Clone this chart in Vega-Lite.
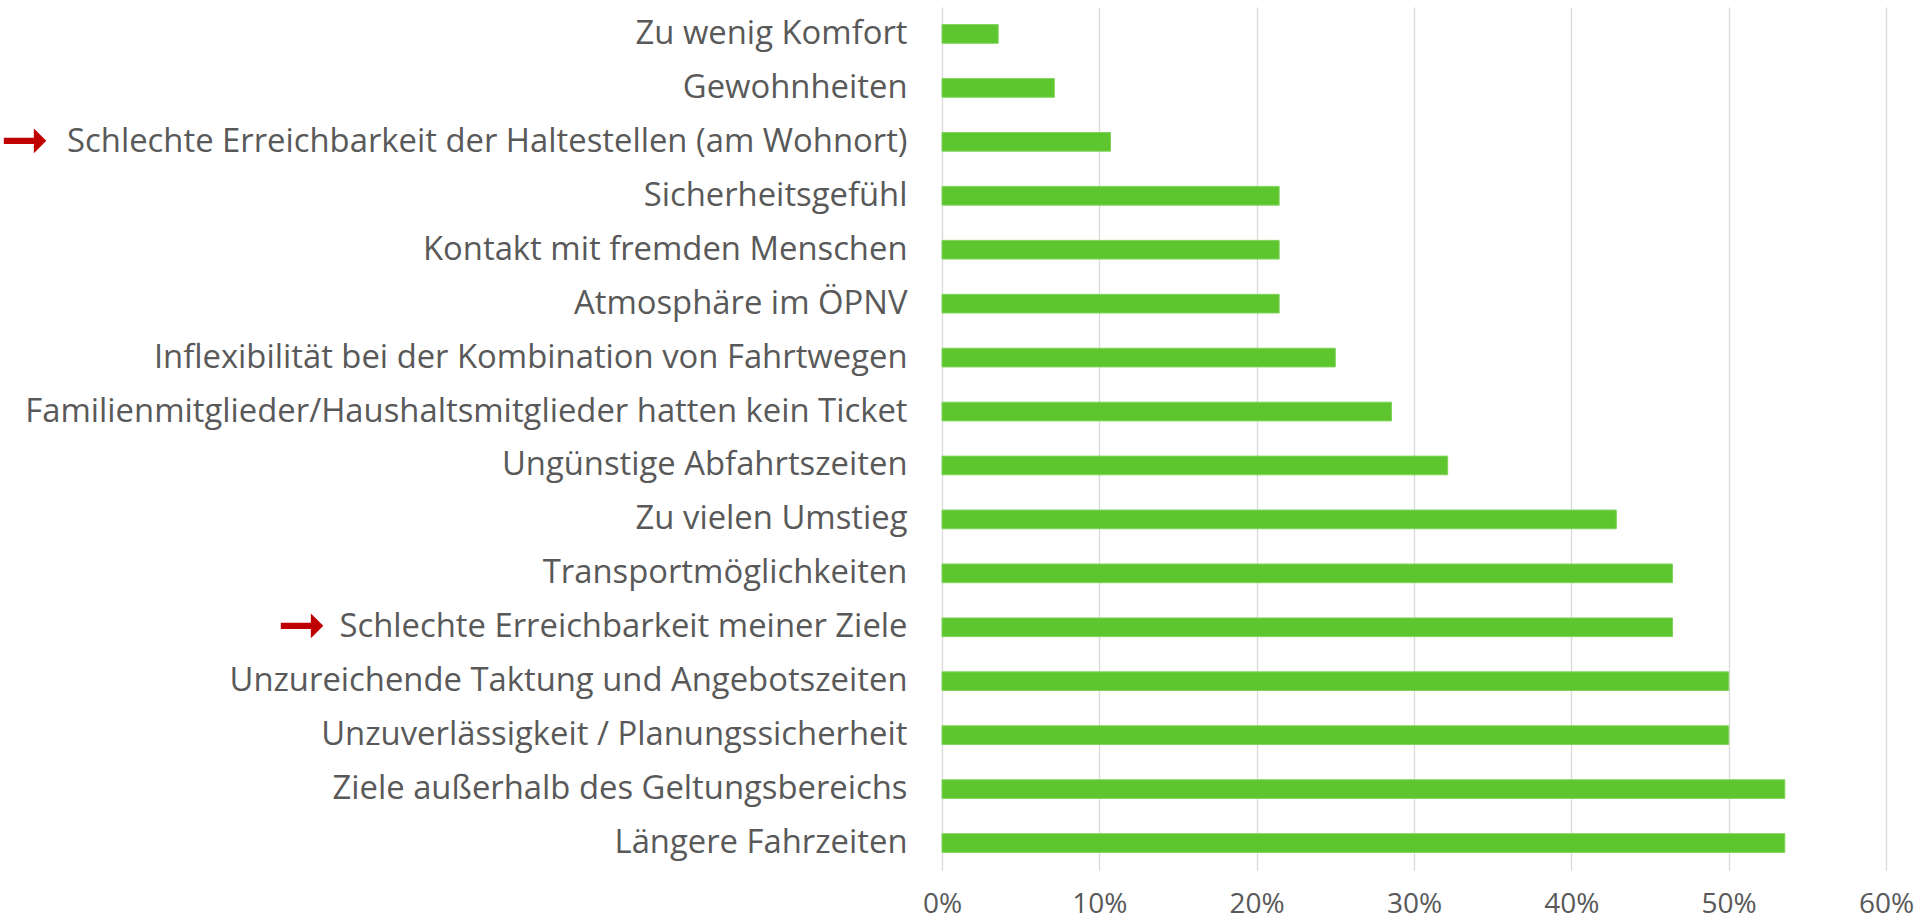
{
  "$schema": "https://vega.github.io/schema/vega-lite/v6.json",
  "width": 944,
  "height": 863,
  "autosize": {"type": "none"},
  "padding": {"left": 942, "top": 7, "right": 43, "bottom": 54},
  "background": "white",
  "config": {"view": {"stroke": null}, "font": "Open Sans"},
  "data": {
    "values": [
      {"reason": "Zu wenig Komfort", "share": 0.0357},
      {"reason": "Gewohnheiten", "share": 0.0714},
      {"reason": "Schlechte Erreichbarkeit der Haltestellen (am Wohnort)", "share": 0.1071},
      {"reason": "Sicherheitsgefühl", "share": 0.2143},
      {"reason": "Kontakt mit fremden Menschen", "share": 0.2143},
      {"reason": "Atmosphäre im ÖPNV", "share": 0.2143},
      {"reason": "Inflexibilität bei der Kombination von Fahrtwegen", "share": 0.25},
      {"reason": "Familienmitglieder/Haushaltsmitglieder hatten kein Ticket", "share": 0.2857},
      {"reason": "Ungünstige Abfahrtszeiten\u00a0", "share": 0.3214},
      {"reason": "Zu vielen Umstieg", "share": 0.4286},
      {"reason": "Transportmöglichkeiten", "share": 0.4643},
      {"reason": "Schlechte Erreichbarkeit meiner Ziele", "share": 0.4643},
      {"reason": "Unzureichende Taktung und Angebotszeiten", "share": 0.5},
      {"reason": "Unzuverlässigkeit / Planungssicherheit", "share": 0.5},
      {"reason": "Ziele außerhalb des Geltungsbereichs", "share": 0.5357},
      {"reason": "Längere Fahrzeiten", "share": 0.5357}
    ]
  },
  "encoding": {
    "y": {
      "field": "reason",
      "type": "nominal",
      "sort": null,
      "scale": {"paddingInner": 0.653, "paddingOuter": 0.3265},
      "axis": {
        "title": null,
        "domain": false,
        "ticks": false,
        "grid": false,
        "labelFont": "Open Sans",
        "labelFontSize": 32.8,
        "labelColor": "#595959",
        "labelPadding": 35,
        "labelLimit": 2000
      }
    }
  },
  "layer": [
    {
      "mark": {"type": "bar", "color": "#5DC62F", "stroke": "#80D45C", "strokeWidth": 1},
      "encoding": {
        "x": {
          "field": "share",
          "type": "quantitative",
          "scale": {"domain": [0, 0.6]},
          "axis": {
            "title": null,
            "format": ".0%",
            "values": [0, 0.1, 0.2, 0.3, 0.4, 0.5, 0.6],
            "grid": true,
            "gridColor": "#D9D9D9",
            "gridWidth": 1.3,
            "domain": false,
            "ticks": false,
            "labelFlush": false,
            "labelOverlap": false,
            "labelFont": "Open Sans",
            "labelFontSize": 28,
            "labelColor": "#595959",
            "labelPadding": 20
          }
        }
      }
    },
    {
      "transform": [{"filter": "datum.reason == 'Schlechte Erreichbarkeit der Haltestellen (am Wohnort)'"}],
      "mark": {"type": "text", "text": "➞", "font": "DejaVu Sans", "fontSize": 58, "color": "#C00000", "align": "right", "baseline": "middle", "dx": -893},
      "encoding": {"x": {"datum": 0, "type": "quantitative"}}
    },
    {
      "transform": [{"filter": "datum.reason == 'Schlechte Erreichbarkeit meiner Ziele'"}],
      "mark": {"type": "text", "text": "➞", "font": "DejaVu Sans", "fontSize": 58, "color": "#C00000", "align": "right", "baseline": "middle", "dx": -616},
      "encoding": {"x": {"datum": 0, "type": "quantitative"}}
    }
  ]
}
